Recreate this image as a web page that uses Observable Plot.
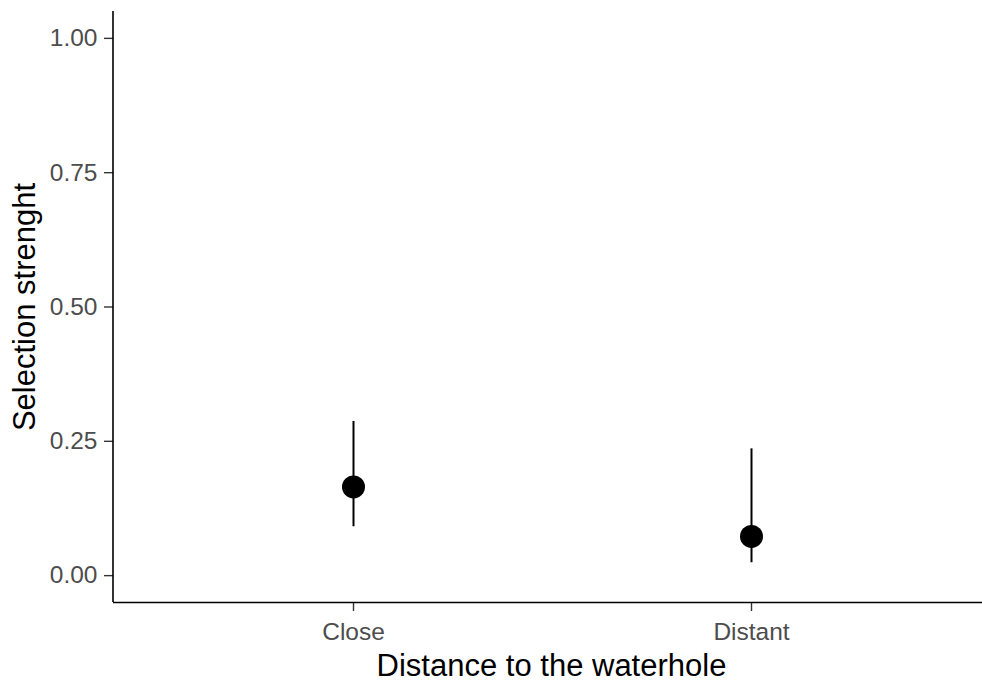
<!DOCTYPE html>
<html>
<head>
<meta charset="utf-8">
<script src="https://cdn.jsdelivr.net/npm/d3@7"></script>
<script src="https://cdn.jsdelivr.net/npm/@observablehq/plot@0.6"></script>
<style>
  html, body { margin: 0; padding: 0; background: #fff; }
  #chart svg { display: block; }
</style>
</head>
<body>
<div id="chart"></div>
<script>
// Data
const categories = ["Close", "Distant"];
const means = [0.165, 0.073];
const lowers = [0.091, 0.024];
const uppers = [0.287, 0.236];
const yTicks = [0, 0.25, 0.5, 0.75, 1];
const xTitle = "Distance to the waterhole";
const yTitle = "Selection strenght";

const data = categories.map((c, i) => ({cat: c, mean: means[i], lower: lowers[i], upper: uppers[i]}));

const W = 982, H = 684;
const mL = 113, mR = 0, mT = 11, mB = 82;

const chart = Plot.plot({
  width: W,
  height: H,
  marginLeft: mL,
  marginRight: mR,
  marginTop: mT,
  marginBottom: mB,
  style: {fontFamily: "'Liberation Sans', Arial, sans-serif", background: "#fff"},
  x: {type: "point", domain: categories, range: [113, 990], padding: 0.6},
  y: {domain: [-0.05, 1.05]},
  marks: [
    Plot.axisY({ticks: yTicks, tickFormat: d => d.toFixed(2), tickSize: 9, tickPadding: 7,
      fontSize: 24.5, fill: "#4D4D4D", stroke: "#333", strokeWidth: 1.4, label: null}),
    Plot.axisX({tickSize: 9, tickPadding: 11, fontSize: 24.5, fill: "#4D4D4D", stroke: "#333", strokeWidth: 1.4, label: null}),
    Plot.ruleY([-0.05], {stroke: "#000", strokeWidth: 1.6}),
    Plot.ruleX(data, {x: "cat", y1: "lower", y2: "upper", stroke: "#000", strokeWidth: 2}),
    Plot.dot(data, {x: "cat", y: "mean", r: 11.5, fill: "#000", stroke: "none"}),
    Plot.text([yTitle], {frameAnchor: "left", textAnchor: "middle", lineAnchor: "middle", rotate: -90, dx: -88, fontSize: 31, fill: "#000"}),
    Plot.text([xTitle], {frameAnchor: "bottom", textAnchor: "middle", lineAnchor: "middle", dx: 3.5, dy: 64, fontSize: 31, fill: "#000"})
  ]
});

// left axis line derived from the y scale
const y = chart.scale("y");
d3.select(chart).append("line")
  .attr("x1", mL).attr("x2", mL)
  .attr("y1", y.apply(1.05)).attr("y2", y.apply(-0.05))
  .attr("stroke", "#000").attr("stroke-width", 1.6);

document.getElementById("chart").appendChild(chart);
</script>
</body>
</html>
